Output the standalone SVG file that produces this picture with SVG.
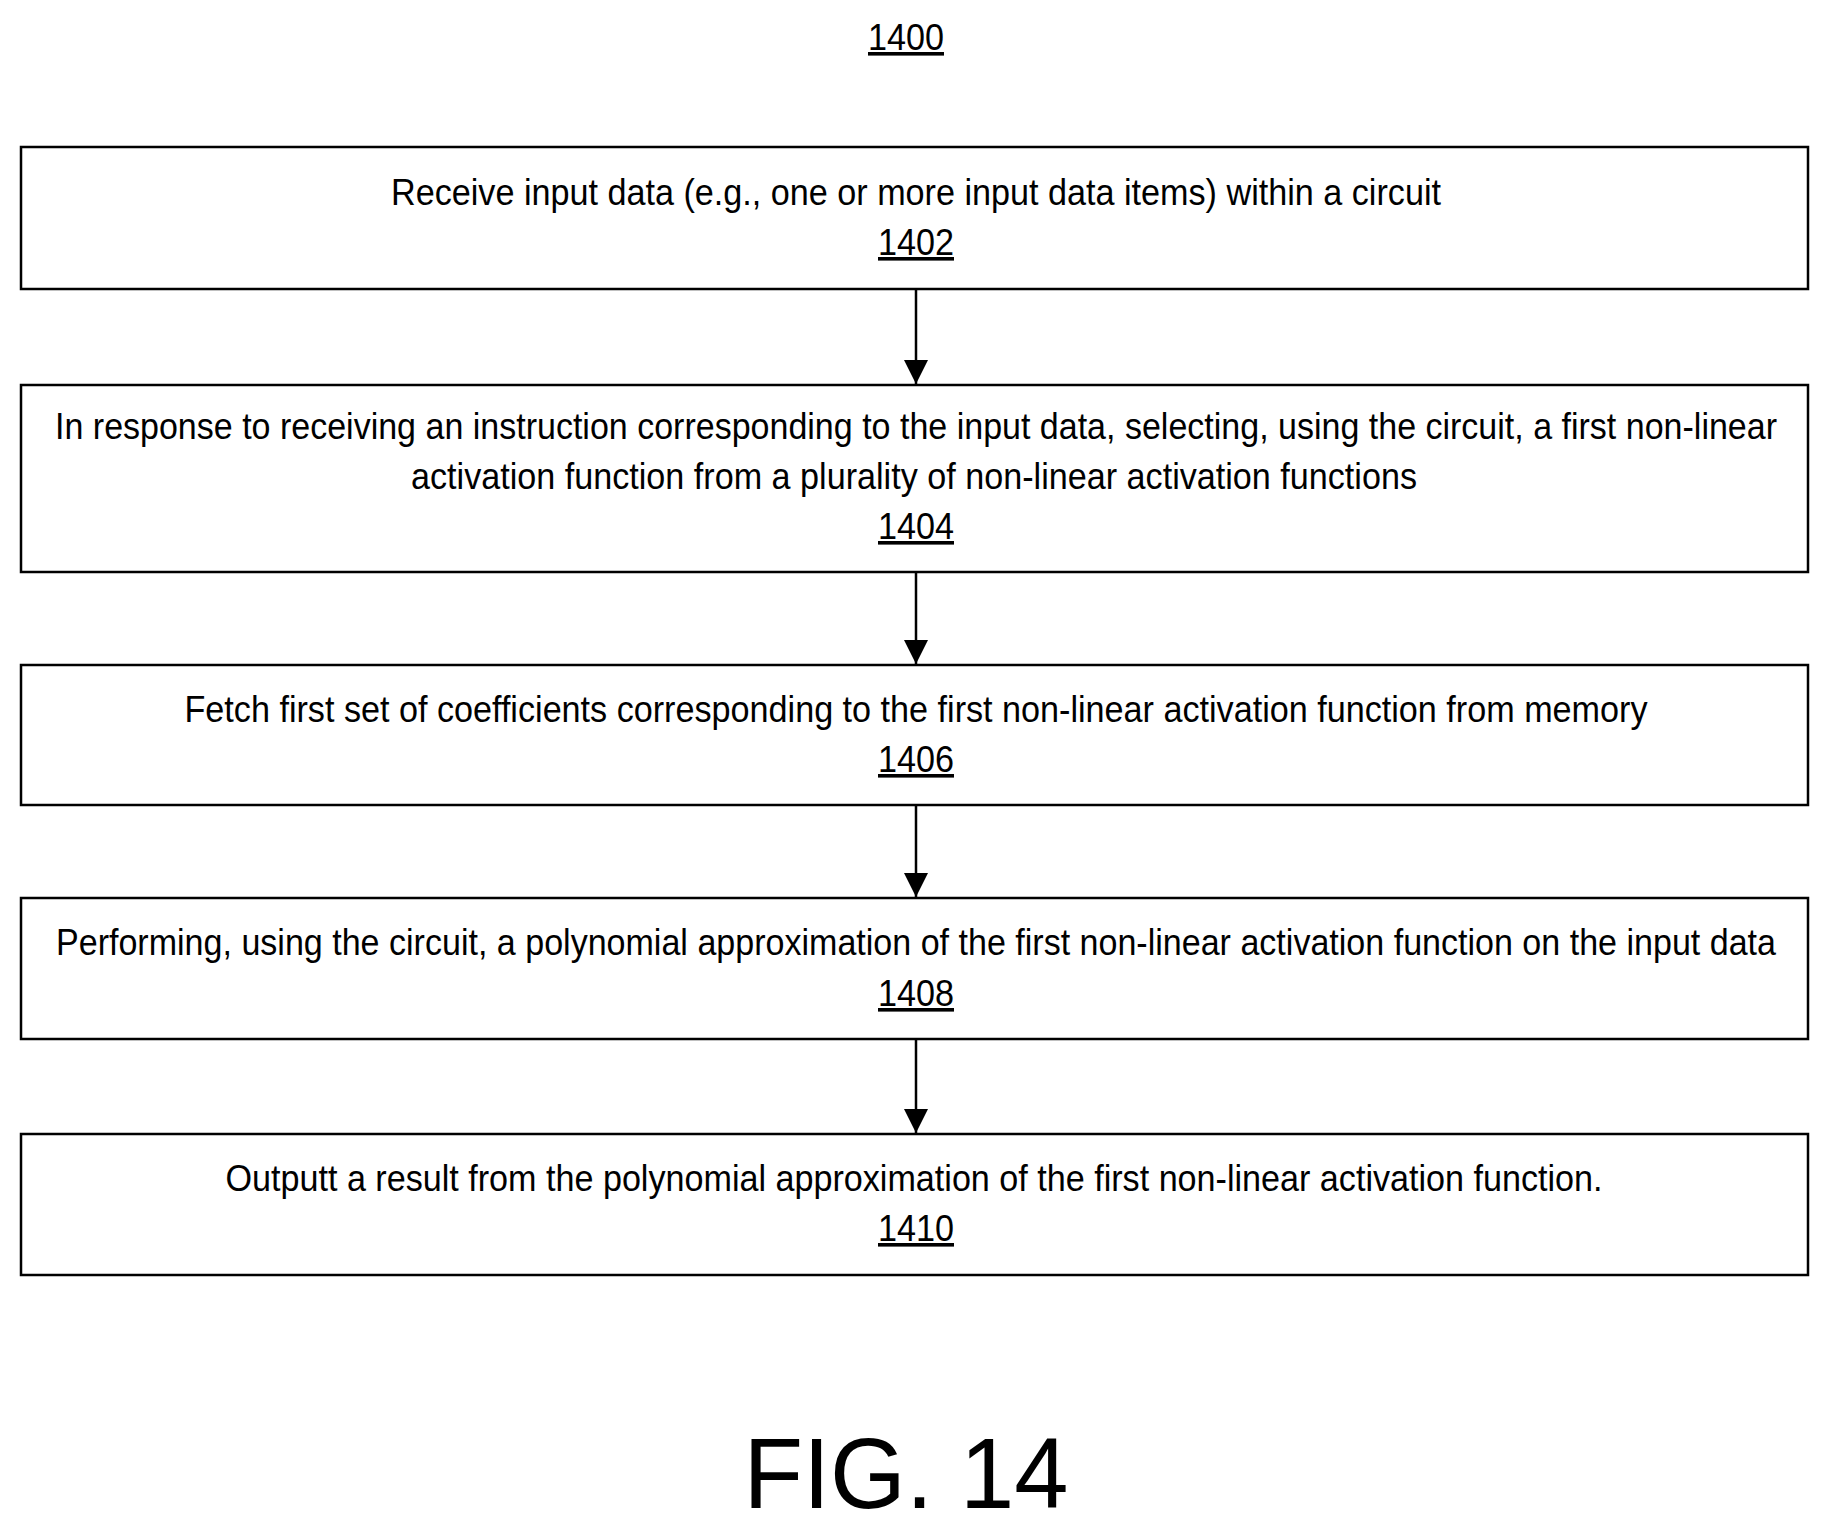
<svg xmlns="http://www.w3.org/2000/svg" width="1829" height="1531" viewBox="0 0 1829 1531">
<style>
text{font-family:"Liberation Sans",Arial,sans-serif;font-size:36px;fill:#000;text-anchor:middle}
.n{text-decoration:underline}
rect{fill:#fff;stroke:#000;stroke-width:2.5}
line{stroke:#000;stroke-width:2.5}
</style>
<defs><marker id="a" markerWidth="24" markerHeight="24" refX="10" refY="5" orient="auto" markerUnits="userSpaceOnUse" viewBox="0 0 10 10"><path d="M0,0L10,5L0,10z" fill="#000"/></marker></defs>
<rect width="1829" height="1531" style="stroke:none"/>
<text class="n" x="906" y="50" textLength="76" lengthAdjust="spacingAndGlyphs">1400</text>
<g id="n1402"><rect x="21" y="147" width="1787" height="142"/>
<text x="916" y="205" textLength="1050" lengthAdjust="spacingAndGlyphs">Receive input data (e.g., one or more input data items) within a circuit</text>
<text class="n" x="916" y="255" textLength="76" lengthAdjust="spacingAndGlyphs">1402</text></g>
<g id="n1404"><rect x="21" y="385" width="1787" height="187"/>
<text x="916" y="439" textLength="1722" lengthAdjust="spacingAndGlyphs">In response to receiving an instruction corresponding to the input data, selecting, using the circuit, a first non-linear</text>
<text x="914" y="489" textLength="1006" lengthAdjust="spacingAndGlyphs">activation function from a plurality of non-linear activation functions</text>
<text class="n" x="916" y="539" textLength="76" lengthAdjust="spacingAndGlyphs">1404</text></g>
<g id="n1406"><rect x="21" y="665" width="1787" height="140"/>
<text x="916" y="722" textLength="1463" lengthAdjust="spacingAndGlyphs">Fetch first set of coefficients corresponding to the first non-linear activation function from memory</text>
<text class="n" x="916" y="772" textLength="76" lengthAdjust="spacingAndGlyphs">1406</text></g>
<g id="n1408"><rect x="21" y="898" width="1787" height="141"/>
<text x="916" y="955" textLength="1720" lengthAdjust="spacingAndGlyphs">Performing, using the circuit, a polynomial approximation of the first non-linear activation function on the input data</text>
<text class="n" x="916" y="1006" textLength="76" lengthAdjust="spacingAndGlyphs">1408</text></g>
<g id="n1410"><rect x="21" y="1134" width="1787" height="141"/>
<text x="914" y="1191" textLength="1377" lengthAdjust="spacingAndGlyphs">Outputt a result from the polynomial approximation of the first non-linear activation function.</text>
<text class="n" x="916" y="1241" textLength="76" lengthAdjust="spacingAndGlyphs">1410</text></g>
<g id="connectors">
<line x1="916" y1="289" x2="916" y2="384" marker-end="url(#a)"/>
<line x1="916" y1="572" x2="916" y2="664" marker-end="url(#a)"/>
<line x1="916" y1="805" x2="916" y2="897" marker-end="url(#a)"/>
<line x1="916" y1="1039" x2="916" y2="1133" marker-end="url(#a)"/>
</g>
<text x="906" y="1508" style="font-size:100px" textLength="325" lengthAdjust="spacingAndGlyphs">FIG. 14</text>
</svg>
